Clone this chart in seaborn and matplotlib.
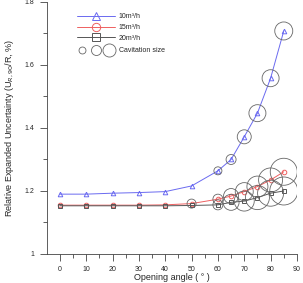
import numpy as np
import pandas as pd
import matplotlib
matplotlib.use('Agg')
import matplotlib.pyplot as plt
import seaborn as sns
from matplotlib.lines import Line2D
from matplotlib.legend_handler import HandlerTuple

angle = [0, 10, 20, 30, 40, 50, 60, 65, 70, 75, 80, 85]
u_10 = [1.190, 1.190, 1.193, 1.195, 1.198, 1.216, 1.264, 1.300, 1.372, 1.447, 1.558, 1.708]
u_15 = [1.155, 1.155, 1.155, 1.155, 1.156, 1.160, 1.174, 1.184, 1.198, 1.214, 1.235, 1.261]
u_20 = [1.153, 1.153, 1.153, 1.153, 1.153, 1.154, 1.156, 1.164, 1.168, 1.179, 1.193, 1.200]

# cavitation size (relative), 0 = none
cav_10 = [0, 0, 0, 0, 0, 0, 4, 5, 7, 8.5, 8.5, 9]
cav_15 = [0, 0, 0, 0, 0, 4.5, 5, 7.5, 9, 10.5, 12, 13.5]
cav_20 = [0, 0, 0, 0, 0, 0, 5, 8, 10, 12, 13, 14]

labels = ['10m\u00b3/h', '15m\u00b3/h', '20m\u00b3/h']

sns.set_style('ticks')
plt.rcParams['font.family'] = ['Liberation Sans', 'DejaVu Sans']

fig = plt.figure(figsize=(3.03, 2.83), dpi=100)
ax = fig.add_axes([0.154, 0.1025, 0.826, 0.8905])

series = [(u_10, cav_10, '#6a6af0', '^'),
          (u_15, cav_15, '#ee6060', 'o'),
          (u_20, cav_20, '#555555', 's')]

handles = []
for (vals, cav, col, mk), lab in zip(series, labels):
    df = pd.DataFrame({'angle': angle, 'u': vals, 'cav': cav})
    sns.lineplot(data=df, x='angle', y='u', color=col, lw=0.7, marker=mk,
                 markersize=3.3, markerfacecolor='none', markeredgecolor=col,
                 markeredgewidth=0.7, ax=ax)
    c = df[df.cav > 0]
    ax.scatter(c.angle, c.u, s=(1.44 * c.cav) ** 2, facecolors='none',
               edgecolors='#666666', linewidths=0.6, zorder=3)
    handles.append(Line2D([], [], color=col, lw=0.7, marker=mk, markersize=6,
                          markerfacecolor='none', markeredgecolor=col,
                          markeredgewidth=0.7))

leg1 = ax.legend(handles, labels, loc='upper left', bbox_to_anchor=(0.1, 0.975),
                 frameon=False, fontsize=5, handlelength=5.5, handletextpad=0.6,
                 labelspacing=0.55, borderpad=0.2)
ax.add_artist(leg1)

circ = tuple(Line2D([], [], ls='none', marker='o', markersize=m,
                    markerfacecolor='none', markeredgecolor='#666666',
                    markeredgewidth=0.6) for m in [5, 7.2, 9.4])
ax.legend([circ], ['Cavitation size'],
          handler_map={tuple: HandlerTuple(ndivide=None, pad=0.2)},
          loc='upper left', bbox_to_anchor=(0.1, 0.84), frameon=False,
          fontsize=5, handlelength=5.5, handletextpad=0.6, borderpad=0.2)

ax.set_xlim(-5, 90)
ax.set_ylim(1, 1.8)
ax.set_xticks(range(0, 91, 10))
ax.set_xticks(range(5, 90, 10), minor=True)
ax.set_yticks([1, 1.2, 1.4, 1.6, 1.8])
ax.set_yticklabels(['1', '1.2', '1.4', '1.6', '1.8'])
ax.set_yticks([1.1, 1.3, 1.5, 1.7], minor=True)
ax.tick_params(which='major', length=5, width=0.6, labelsize=5, pad=4, color='#444444')
ax.tick_params(which='minor', length=3, width=0.6, color='#444444')
for s in ['top', 'right']:
    ax.spines[s].set_visible(False)
for s in ['left', 'bottom']:
    ax.spines[s].set_linewidth(0.6)
    ax.spines[s].set_color('#444444')

ax.set_xlabel('Opening angle ( \u00b0 )', fontsize=6.5, labelpad=0)
ax.set_ylabel('Relative Expanded Uncertainty (U$_{R,90}$/R, %)', fontsize=6.5, labelpad=6)

fig.savefig('out.png', dpi=100)
